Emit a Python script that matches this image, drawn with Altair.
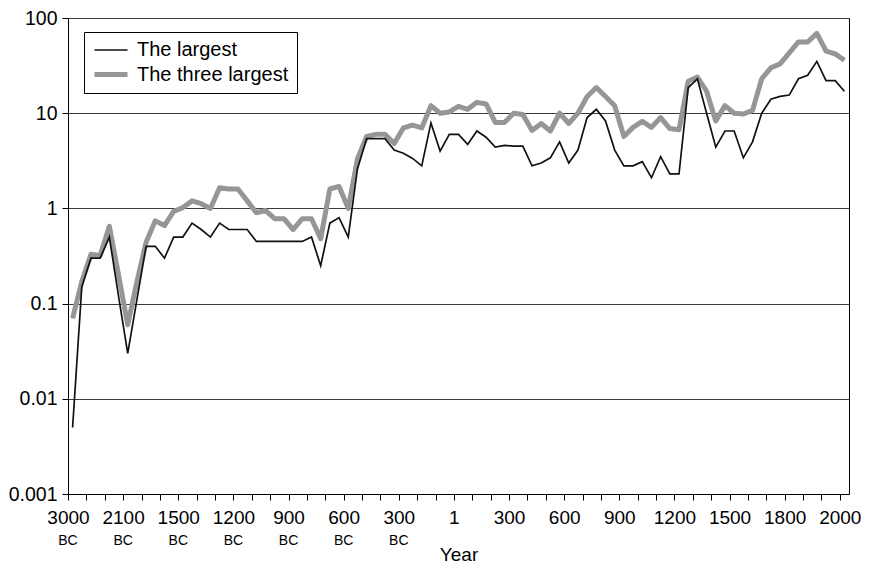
import altair as alt
import pandas as pd

# Values (million km^2), one per period, left to right
largest = [0.005, 0.15, 0.3, 0.3, 0.5, 0.12, 0.03, 0.11, 0.4, 0.4,
           0.3, 0.5, 0.5, 0.7, 0.6, 0.5, 0.7, 0.6, 0.6, 0.6,
           0.45, 0.45, 0.45, 0.45, 0.45, 0.45, 0.5, 0.25, 0.7, 0.8,
           0.5, 2.6, 5.4, 5.4, 5.4, 4.1, 3.8, 3.35, 2.8, 7.9,
           4.0, 6.0, 6.0, 4.7, 6.5, 5.6, 4.4, 4.6, 4.5, 4.5,
           2.8, 3.0, 3.4, 5.0, 3.0, 4.1, 9.0, 11, 8.3, 4.1,
           2.8, 2.8, 3.1, 2.1, 3.5, 2.3, 2.3, 18.6, 23, 10,
           4.4, 6.5, 6.5, 3.4, 5.0, 10, 14, 15, 15.5, 23,
           25, 35, 22, 22, 17]
three_largest = [0.07, 0.17, 0.33, 0.32, 0.65, 0.2, 0.06, 0.17, 0.44, 0.74,
                 0.66, 0.93, 1.02, 1.2, 1.12, 1.0, 1.65, 1.6, 1.6, 1.2,
                 0.9, 0.95, 0.78, 0.78, 0.6, 0.78, 0.78, 0.48, 1.6, 1.7,
                 1.0, 3.3, 5.7, 6.0, 6.0, 4.8, 7.0, 7.5, 7.0, 12,
                 10, 10.3, 11.8, 11, 13, 12.5, 8, 8, 10, 9.7,
                 6.6, 7.8, 6.5, 10, 7.8, 10, 15, 18.6, 15, 12,
                 5.7, 7.1, 8.2, 7.1, 9, 6.9, 6.7, 21.7, 24, 17,
                 8.3, 12, 10, 9.8, 10.7, 23, 30, 33, 43, 56,
                 56, 69, 45, 42, 36]
series_names = ["The largest", "The three largest"]

tick_years = ["3000", "2100", "1500", "1200", "900", "600", "300",
              "1", "300", "600", "900", "1200", "1500", "1800", "2000"]
tick_era = ["BC"] * 7 + [""] * 8
y_ticks = [0.001, 0.01, 0.1, 1, 10, 100]

n = len(largest)
assert n == len(three_largest)

df = pd.DataFrame({
    "pos": [i + 0.5 for i in range(n)] * 2,
    "value": largest + three_largest,
    "series": [series_names[0]] * n + [series_names[1]] * n,
})

label_step = 6  # categories between labelled ticks
n_cat = n
era_df = pd.DataFrame({
    "pos": [k * label_step for k, e in enumerate(tick_era) if e],
    "text": [e for e in tick_era if e],
})

FONT = "Liberation Sans"
years_js = "[" + ",".join("'" + t + "'" for t in tick_years) + "]"
label_expr = f"datum.value % {label_step} == 0 ? {years_js}[datum.value / {label_step}] : ''"

x_axis = alt.Axis(
    values=list(range(0, n_cat, 2)),
    labelExpr=label_expr,
    title="Year",
    grid=False,
    tickSize=6,
    labelPadding=8,
    labelOverlap=False,
    labelFlush=False,
    labelFontSize=19,
    titleFontSize=19,
    titleFontWeight="normal",
    titlePadding=18,
    domainColor="black",
    tickColor="black",
    labelColor="black",
    titleColor="black",
)
x_scale = alt.Scale(domain=[0, n_cat], nice=False, zero=False)
x_enc = alt.X("pos:Q", scale=x_scale, axis=x_axis)
y_enc = alt.Y(
    "value:Q",
    scale=alt.Scale(type="log", domain=[0.001, 100], nice=False),
    axis=alt.Axis(
        values=y_ticks,
        format="~g",
        title=None,
        grid=True,
        gridColor="#3a3a3a",
        gridWidth=1,
        tickSize=6,
        labelPadding=5,
        labelFontSize=19.5,
        domainColor="black",
        tickColor="black",
        labelColor="black",
    ),
)

legend = alt.Legend(
    title=None,
    orient="none",
    legendX=16,
    legendY=14,
    strokeColor="black",
    fillColor="white",
    padding=8,
    labelFontSize=20,
    labelFont=FONT,
    labelColor="black",
    labelOffset=24,
    symbolType="M-1,0H3.125",
    symbolSize=256,
    rowPadding=4,
)
color = alt.Color("series:N",
                  scale=alt.Scale(domain=series_names, range=["#111111", "#969696"]),
                  legend=legend)
width_enc = alt.StrokeWidth("series:N",
                            scale=alt.Scale(domain=series_names, range=[1.7, 5]),
                            legend=legend)

base = alt.Chart(df).encode(x=x_enc, y=y_enc, color=color, strokeWidth=width_enc)

gray = base.transform_filter(alt.datum.series == series_names[1]).mark_line(strokeJoin="round")
black = base.transform_filter(alt.datum.series == series_names[0]).mark_line()

era = alt.Chart(era_df).mark_text(fontSize=14, font=FONT, baseline="middle", color="black").encode(
    x=x_enc,
    y=alt.value(523),
    text="text:N",
)

chart = alt.layer(gray, black, era).properties(
    width=781,
    height=476,
    autosize=alt.AutoSizeParams(type="none"),
    padding={"left": 60, "top": 10, "right": 12, "bottom": 73},
).configure(font=FONT).configure_view(stroke="black", strokeWidth=1)

chart.save("out.html", embed_options={"renderer": "svg", "actions": False})
